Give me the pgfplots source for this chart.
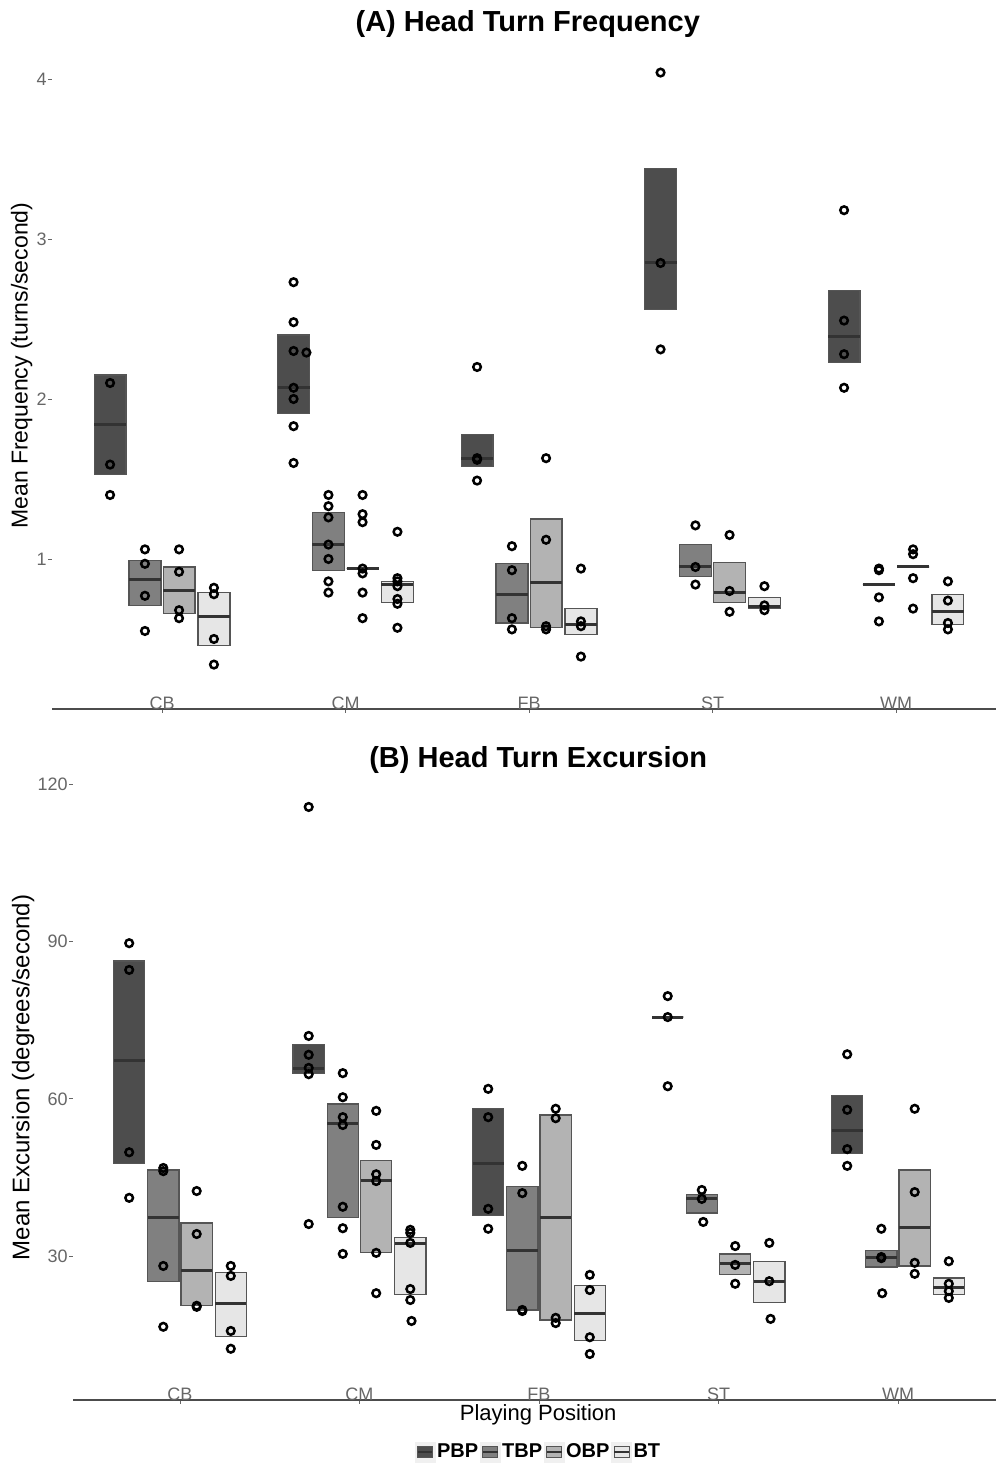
\documentclass[border=0pt]{standalone}
\usepackage{fontspec}
\setmainfont{Liberation Sans}
\usepackage{pgfplots}
\pgfplotsset{compat=1.18}
\usepgfplotslibrary{statistics}
\definecolor{pbp}{HTML}{4D4D4D}
\definecolor{tbp}{HTML}{808080}
\definecolor{obp}{HTML}{B3B3B3}
\definecolor{bt}{HTML}{E6E6E6}
\definecolor{boxedge}{HTML}{555555}
\definecolor{medcol}{HTML}{333333}
\definecolor{tickcol}{HTML}{666666}
\newcommand\bx[5]{\addplot[boxplot prepared={draw direction=y, draw position=#1, lower whisker=#2, lower quartile=#2, median=#3, upper quartile=#4, upper whisker=#4, box extend=0.174, whisker extend=0}, fill=#5, draw=boxedge, line width=0.6pt, boxplot/every median/.style={draw=medcol, line width=1.5pt}, boxplot/every whisker/.style={draw=none}] coordinates {};}
\pgfplotsset{
  myax/.style={scale only axis, clip=false,
    axis lines*=left, axis line style={-},
    y axis line style={draw=none},
    x axis line style={draw=black!70, line width=0.75pt},
    xtick={0,1,2,3,4}, xticklabels={CB,CM,FB,ST,WM},
    tick align=outside, major tick length=2pt,
    tick style={tickcol, line width=0.4pt},
    xticklabel style={anchor=south, inner sep=0pt, yshift=1.5pt, font=\fontsize{9}{10}\selectfont, text=tickcol},
    yticklabel style={font=\fontsize{9}{10}\selectfont, text=tickcol, inner sep=0.5pt},
    /pgf/number format/assume math mode=true,
    title style={font=\bfseries\fontsize{14.5}{16}\selectfont, anchor=south, inner sep=0pt},
  },
  pts/.style={only marks, mark=o, mark size=1.9pt, mark options={line width=1.25pt, draw=black}},
  legkey/.style={legend image code/.code={\fill[black!6] (-1pt,-5pt) rectangle (9pt,5pt); \filldraw[fill=#1, draw=boxedge, line width=0.4pt] (0.3pt,-2.6pt) rectangle (7.7pt,2.6pt); \draw[medcol, line width=0.7pt] (0.3pt,0pt) -- (7.7pt,0pt);}},
}
\begin{document}
\begin{tikzpicture}
\path[use as bounding box] (0,0) rectangle (498pt,733pt);
% ---------------- (A) ----------------
\begin{axis}[myax, at={(26pt,378.5pt)}, anchor=south west,
  width=472pt, height=327pt,
  xmin=-0.5995, xmax=4.545, ymin=0.0625, ymax=4.15,
  ytick={1,2,3,4},
  title={(A) Head Turn Frequency},
  title style={at={(axis description cs:0.504,1)}, yshift=2.5pt},
  ylabel={Mean Frequency (turns/second)},
  ylabel style={at={(axis description cs:-0.032,0.525)}, anchor=center, font=\fontsize{11.5}{13}\selectfont},
]
% CB
\bx{-0.283}{1.53}{1.84}{2.15}{pbp}
\bx{-0.093}{0.71}{0.87}{0.99}{tbp}
\bx{0.093}{0.66}{0.80}{0.95}{obp}
\bx{0.283}{0.46}{0.64}{0.79}{bt}
% CM
\bx{0.717}{1.91}{2.07}{2.40}{pbp}
\bx{0.907}{0.93}{1.09}{1.29}{tbp}
\bx{1.093}{0.94}{0.94}{0.94}{obp}
\bx{1.283}{0.73}{0.84}{0.86}{bt}
% FB
\bx{1.717}{1.58}{1.63}{1.78}{pbp}
\bx{1.907}{0.60}{0.78}{0.97}{tbp}
\bx{2.093}{0.57}{0.85}{1.25}{obp}
\bx{2.283}{0.53}{0.59}{0.69}{bt}
% ST
\bx{2.717}{2.56}{2.85}{3.44}{pbp}
\bx{2.907}{0.89}{0.95}{1.09}{tbp}
\bx{3.093}{0.73}{0.79}{0.98}{obp}
\bx{3.283}{0.69}{0.70}{0.76}{bt}
% WM
\bx{3.717}{2.23}{2.39}{2.68}{pbp}
\bx{3.907}{0.84}{0.84}{0.84}{tbp}
\bx{4.093}{0.95}{0.95}{0.95}{obp}
\bx{4.283}{0.59}{0.67}{0.78}{bt}
\addplot[pts] coordinates {
(-0.283,2.10) (-0.283,1.59) (-0.283,1.40)
(-0.093,1.06) (-0.093,0.97) (-0.093,0.77) (-0.093,0.55)
(0.093,1.06) (0.093,0.92) (0.093,0.68) (0.093,0.63)
(0.283,0.82) (0.283,0.78) (0.283,0.50) (0.283,0.34)
(0.717,2.73) (0.717,2.48) (0.717,2.30) (0.717,2.07) (0.717,2.00) (0.717,1.83) (0.717,1.60) (0.787,2.29)
(0.907,1.40) (0.907,1.33) (0.907,1.26) (0.907,1.09) (0.907,1.00) (0.907,0.86) (0.907,0.79)
(1.093,1.40) (1.093,1.28) (1.093,1.23) (1.093,0.94) (1.093,0.91) (1.093,0.79) (1.093,0.63)
(1.283,1.17) (1.283,0.88) (1.283,0.86) (1.283,0.83) (1.283,0.75) (1.283,0.72) (1.283,0.57)
(1.717,2.20) (1.717,1.63) (1.717,1.62) (1.717,1.49)
(1.907,1.08) (1.907,0.93) (1.907,0.63) (1.907,0.56)
(2.093,1.63) (2.093,1.12) (2.093,0.58) (2.093,0.56)
(2.283,0.94) (2.283,0.61) (2.283,0.58) (2.283,0.39)
(2.717,4.04) (2.717,2.85) (2.717,2.31)
(2.907,1.21) (2.907,0.95) (2.907,0.84)
(3.093,1.15) (3.093,0.80) (3.093,0.67)
(3.283,0.83) (3.283,0.71) (3.283,0.68)
(3.717,3.18) (3.717,2.49) (3.717,2.28) (3.717,2.07)
(3.907,0.94) (3.907,0.93) (3.907,0.76) (3.907,0.61)
(4.093,1.06) (4.093,1.03) (4.093,0.88) (4.093,0.69)
(4.283,0.86) (4.283,0.74) (4.283,0.60) (4.283,0.56)
};
\end{axis}
% ---------------- (B) ----------------
\begin{axis}[myax, at={(36.5pt,33pt)}, anchor=south west,
  width=461.5pt, height=312.5pt,
  xmin=-0.596, xmax=4.546, ymin=2.52, ymax=121.8,
  ytick={30,60,90,120},
  title={(B) Head Turn Excursion},
  title style={at={(axis description cs:0.504,1)}, yshift=-5.5pt},
  ylabel={Mean Excursion (degrees/second)},
  ylabel style={at={(axis description cs:-0.054,0.516)}, anchor=center, font=\fontsize{12}{14}\selectfont},
  xlabel={Playing Position},
  xlabel style={at={(axis description cs:0.504,0)}, anchor=north, inner sep=0pt, yshift=-2pt, font=\fontsize{11}{13}\selectfont},
  legend style={at={(axis description cs:0.504,0)}, anchor=center, yshift=-26pt,
    draw=none, fill=none, legend columns=-1, inner sep=0pt,
    font=\bfseries\fontsize{10}{12}\selectfont,
    nodes={inner sep=0.8pt},
    /tikz/every even column/.append style={column sep=0pt}},
]
\addlegendimage{legkey=pbp}\addlegendentry{PBP}
\addlegendimage{legkey=tbp}\addlegendentry{TBP}
\addlegendimage{legkey=obp}\addlegendentry{OBP}
\addlegendimage{legkey=bt}\addlegendentry{BT}
% CB
\bx{-0.283}{47.6}{67.4}{86.3}{pbp}
\bx{-0.093}{25.2}{37.3}{46.4}{tbp}
\bx{0.093}{20.5}{27.3}{36.3}{obp}
\bx{0.283}{14.7}{21.0}{26.8}{bt}
% CM
\bx{0.717}{64.9}{65.7}{70.3}{pbp}
\bx{0.907}{37.3}{55.2}{59.0}{tbp}
\bx{1.093}{30.6}{44.5}{48.3}{obp}
\bx{1.283}{22.6}{32.3}{33.6}{bt}
% FB
\bx{1.717}{37.8}{47.7}{58.2}{pbp}
\bx{1.907}{19.7}{31.0}{43.2}{tbp}
\bx{2.093}{17.8}{37.3}{56.9}{obp}
\bx{2.283}{13.8}{19.1}{24.3}{bt}
% ST
\bx{2.717}{75.6}{75.6}{75.6}{pbp}
\bx{2.907}{38.2}{40.9}{41.8}{tbp}
\bx{3.093}{26.4}{28.5}{30.4}{obp}
\bx{3.283}{21.2}{25.2}{29.0}{bt}
% WM
\bx{3.717}{49.5}{54.0}{60.7}{pbp}
\bx{3.907}{27.9}{29.8}{31.1}{tbp}
\bx{4.093}{28.1}{35.5}{46.4}{obp}
\bx{4.283}{22.7}{23.9}{25.8}{bt}
\addplot[pts] coordinates {
(-0.283,89.7) (-0.283,84.6) (-0.283,49.8) (-0.283,41.1)
(-0.093,46.8) (-0.093,46.2) (-0.093,28.1) (-0.093,16.5)
(0.093,42.4) (0.093,34.2) (0.093,20.5) (0.093,20.3)
(0.283,28.1) (0.283,26.2) (0.283,15.7) (0.283,12.3)
(0.717,115.7) (0.717,72.0) (0.717,68.4) (0.717,65.9) (0.717,64.7) (0.717,36.1)
(0.907,64.9) (0.907,60.3) (0.907,56.5) (0.907,55.0) (0.907,39.4) (0.907,35.3) (0.907,30.4)
(1.093,57.7) (1.093,51.2) (1.093,45.6) (1.093,44.3) (1.093,30.6) (1.093,22.9)
(1.283,35.0) (1.283,34.4) (1.283,32.5) (1.283,23.7) (1.283,21.6) (1.290,17.6)
(1.717,61.9) (1.717,56.5) (1.717,39.0) (1.717,35.2)
(1.907,47.2) (1.907,42.0) (1.907,19.7) (1.907,19.5)
(2.093,58.1) (2.093,56.3) (2.093,18.2) (2.093,17.2)
(2.283,26.4) (2.283,23.5) (2.283,14.5) (2.283,11.3)
(2.717,79.6) (2.717,75.6) (2.717,62.4)
(2.907,42.6) (2.907,40.9) (2.915,36.5)
(3.093,31.9) (3.093,28.3) (3.093,24.7)
(3.283,32.5) (3.283,25.2) (3.290,18.0)
(3.717,68.5) (3.717,57.9) (3.717,50.4) (3.717,47.2)
(3.907,35.2) (3.907,29.8) (3.907,29.6) (3.912,22.9)
(4.093,58.1) (4.093,42.2) (4.093,28.7) (4.093,26.6)
(4.283,29.0) (4.283,24.7) (4.283,23.3) (4.283,22.0)
};
\end{axis}
\end{tikzpicture}
\end{document}
